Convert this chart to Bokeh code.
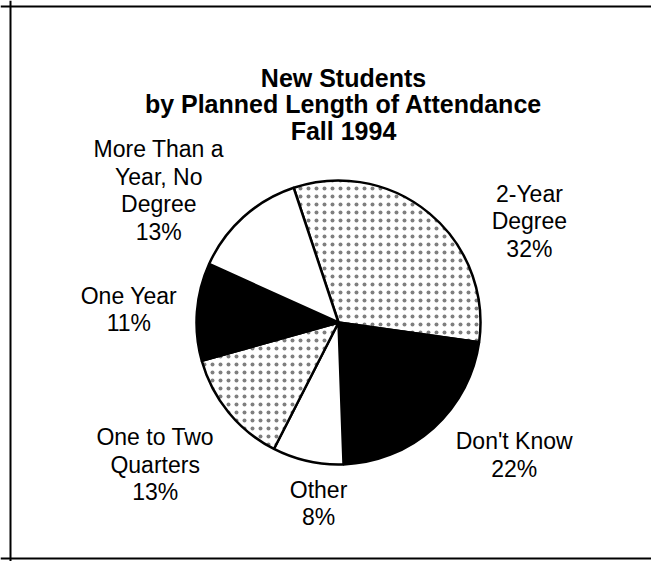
import numpy as np
from bokeh.plotting import figure
from bokeh.models import Range1d, Span, ColumnDataSource
from bokeh.core.properties import value
from bokeh.embed import file_html
from bokeh.resources import INLINE

# ---- data ----
categories = ["2-Year\nDegree", "Don't Know", "Other", "One to Two\nQuarters",
              "One Year", "More Than a\nYear, No\nDegree"]
percent = [32, 22, 8, 13, 11, 13]
title_text = "New Students\nby Planned Length of Attendance\nFall 1994"

# ---- layout / style ----
W, H = 651, 561
CX, CY, R = 338, H - 322, 142
START_DEG = 108.4
fills = ["white", "black", "white", "white", "black", "white"]
hatches = ["dot", " ", " ", "dot", " ", " "]
label_r = [216, 220, 182, 232, 210, 223]
label_deg = [27.9, -37.0, -96.3, -142.2, 176.5, 143.7]
FONT = "Liberation Sans"

vals = np.array(percent, dtype=float)
spans = vals / vals.sum() * 2 * np.pi
starts = np.deg2rad(START_DEG) - np.concatenate([[0], np.cumsum(spans)[:-1]])
ends = starts - spans

src = ColumnDataSource(dict(start=starts, end=ends, fill=fills, hatch=hatches,
                            label=[f"{c}\n{v}%" for c, v in zip(categories, percent)],
                            lx=[CX + r * np.cos(np.deg2rad(a)) for r, a in zip(label_r, label_deg)],
                            ly=[CY + r * np.sin(np.deg2rad(a)) for r, a in zip(label_r, label_deg)]))

p = figure(width=W, height=H, x_range=Range1d(0, W), y_range=Range1d(0, H),
           output_backend="svg", toolbar_location=None, min_border=0)
p.axis.visible = False
p.grid.visible = False
p.outline_line_color = None
p.background_fill_color = "white"
p.border_fill_color = "white"

p.wedge(x=CX, y=CY, radius=R, start_angle="start", end_angle="end", direction="clock",
        fill_color="fill", hatch_pattern="hatch", hatch_color="black", hatch_scale=8,
        hatch_weight=1, hatch_alpha=0.5, line_color="black", line_width=2.5, source=src)

p.text(x="lx", y="ly", text="label", source=src, text_align="center",
       text_baseline="middle", text_font=value(FONT), text_font_size="23px",
       text_line_height=1.06, text_color="black")

p.text(x=[343], y=[H - 104], text=[title_text], text_align="center",
       text_baseline="middle", text_font=value(FONT), text_font_style="bold",
       text_font_size="25px", text_line_height=0.94, text_color="black")

for loc, dim in [(H - 6, "width"), (H - 558, "width"), (10, "height")]:
    p.add_layout(Span(location=loc, dimension=dim, line_color="black", line_width=2))

open("out.html", "w").write(file_html(p, INLINE))
